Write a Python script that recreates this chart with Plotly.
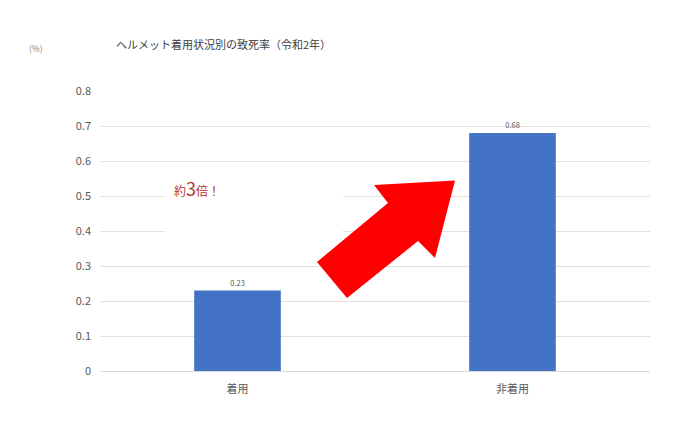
import plotly.graph_objects as go

categories = ['着用', '非着用']
fatality_rate = [0.23, 0.68]
bar_labels = ['0.23', '0.68']

FONT = 'Noto Sans CJK JP'
GRAY = '#595959'

fig = go.Figure()
fig.add_trace(go.Bar(
    x=categories, y=fatality_rate,
    text=bar_labels, textposition='outside',
    textfont=dict(size=7.5, color=GRAY, family=FONT),
    marker=dict(color='#4472C4', line=dict(width=0)),
    width=0.315, cliponaxis=False,
))

# plot area in screen pixels: x 100..650, y 91..371
def px(x, y):
    return (x - 100) / 550, (371 - y) / 280

# white box behind the note, hiding part of the grid
bx0, by0 = px(165, 245)
bx1, by1 = px(343, 168)
fig.add_shape(type='rect', xref='paper', yref='paper', x0=bx0, y0=by0, x1=bx1, y1=by1,
              fillcolor='white', line=dict(width=0), layer='above')

# big red arrow
arrow_pts = [(455, 180.5), (374, 185), (388, 203), (317, 262), (347, 298), (418, 241), (435, 258)]
path = 'M ' + ' L '.join('%.4f,%.4f' % px(x, y) for x, y in arrow_pts) + ' Z'
fig.add_shape(type='path', xref='paper', yref='paper', path=path,
              fillcolor='#FF0000', line=dict(width=0), layer='above')

nx, ny = px(172, 188)
fig.add_annotation(xref='paper', yref='paper', x=nx, y=ny, xanchor='left', yanchor='middle',
                   text='約<span style="font-size:18px">3</span>倍！', showarrow=False,
                   font=dict(size=12, color='#B83232', family=FONT))

cx, cy = px(36, 48)
fig.add_annotation(xref='paper', yref='paper', x=cx, y=cy, xanchor='center', yanchor='middle',
                   text='(%)', showarrow=False, font=dict(size=8.5, color='#7f7f7f', family=FONT))

# page body has an 8px margin, so figure coords = screen - 8
fig.update_layout(
    title=dict(text='ヘルメット着用状況別の致死率（令和2年）', x=108 / 690, xanchor='left',
               y=1 - 37 / 444, yanchor='middle',
               font=dict(size=11, color='#404040', family=FONT)),
    width=690, height=444,
    margin=dict(l=92, r=48, t=83, b=81),
    plot_bgcolor='white', paper_bgcolor='white',
    showlegend=False,
    font=dict(family=FONT, color=GRAY),
    uniformtext=dict(minsize=7),
    yaxis=dict(range=[0, 0.8], dtick=0.1, gridcolor='#e0e0e0', gridwidth=1,
               zeroline=True, zerolinecolor='#d9d9d9', zerolinewidth=1,
               tickfont=dict(size=11, color=GRAY), ticklabelstandoff=8, fixedrange=True),
    xaxis=dict(range=[-0.5, 1.5], showgrid=False, showline=False,
               tickfont=dict(size=11, color=GRAY), ticklabelstandoff=10),
)

fig.write_html('out.html')
